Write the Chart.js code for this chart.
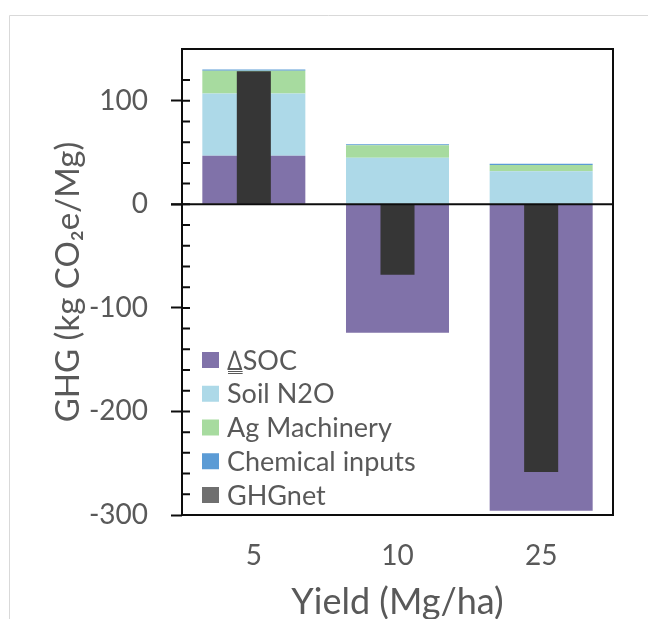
<!DOCTYPE html>
<html>
<head>
<meta charset="utf-8">
<script src="https://cdn.jsdelivr.net/npm/chart.js@4/dist/chart.umd.min.js"></script>
<style>
  html, body { margin: 0; padding: 0; background: #ffffff; overflow: hidden; }
  #wrap { position: relative; width: 648px; height: 640px; }
</style>
</head>
<body>
<div id="wrap"><canvas id="ghg" width="648" height="640"></canvas></div>
<script>
// Yield classes (Mg/ha)
const yields = ['5', '10', '25'];

// GHG contributions, kg CO2e per Mg
const deltaSOC       = [47, -124, -296];
const soilN2O        = [60, 45, 32];
const agMachinery    = [22, 12, 6];
const chemicalInputs = [1.2, 1.1, 1.1];
const ghgNet         = [128.5, -68, -258.5];

// Labelled y ticks (minor ticks every 20 are unlabelled)
const yTickLabels = [-300, -200, -100, 0, 100];

const TEXT = '#595959';
const FONT = 'Lato, "Open Sans", "DejaVu Sans", sans-serif';

const part = (label, data, color) => ({
  label, data,
  backgroundColor: color,
  stack: 'parts',
  grouped: false,
  categoryPercentage: 1,
  barPercentage: 0.717,
  borderWidth: 0,
  order: 1
});

const swatches = ['#8072a9', '#add9e8', '#a7db9f', '#5b9bd5', '#6f6f6f'];

// frame, inward ticks, zero line and in-plot legend
const decorations = {
  id: 'decorations',
  beforeDraw(chart) {
    const ctx = chart.ctx;
    ctx.save();
    ctx.strokeStyle = '#d9d9d9';
    ctx.lineWidth = 1;
    ctx.beginPath();
    ctx.moveTo(9.5, 640); ctx.lineTo(9.5, 15.5); ctx.lineTo(648, 15.5);
    ctx.stroke();
    ctx.restore();
  },
  afterDatasetsDraw(chart) {
    const {ctx, chartArea: a, scales: {y}} = chart;
    ctx.save();
    ctx.strokeStyle = '#0d0d0d';
    ctx.lineWidth = 2;
    // zero line across the plot, extending over the outer tick
    const y0 = y.getPixelForValue(0);
    ctx.beginPath();
    ctx.moveTo(a.left - 11, y0); ctx.lineTo(a.right, y0);
    ctx.stroke();
    // inward tick marks
    ctx.beginPath();
    y.ticks.forEach(t => {
      const py = y.getPixelForValue(t.value);
      ctx.moveTo(a.left, py); ctx.lineTo(a.left + 8, py);
    });
    ctx.stroke();
    // plot frame
    ctx.strokeRect(a.left, a.top, a.right - a.left, a.bottom - a.top);

    // legend
    const labels = chart.data.datasets.map(d => d.label);
    ctx.font = '27px ' + FONT;
    ctx.textBaseline = 'middle';
    ctx.textAlign = 'left';
    labels.forEach((lab, i) => {
      const cy = a.bottom - 155 + i * 33.75;
      ctx.fillStyle = swatches[i];
      ctx.fillRect(a.left + 20, cy - 8, 17, 16);
      ctx.fillStyle = TEXT;
      ctx.fillText(lab, a.left + 45, cy + 1);
      if (i === 0) {
        const w = ctx.measureText(lab.charAt(0)).width;
        ctx.strokeStyle = TEXT;
        ctx.lineWidth = 1;
        ctx.beginPath();
        ctx.moveTo(a.left + 46, cy + 11.5); ctx.lineTo(a.left + 45 + w, cy + 11.5);
        ctx.moveTo(a.left + 46, cy + 13.5); ctx.lineTo(a.left + 45 + w, cy + 13.5);
        ctx.stroke();
      }
    });
    ctx.restore();
  }
};

new Chart(document.getElementById('ghg'), {
  type: 'bar',
  data: {
    labels: yields,
    datasets: [
      part('∆SOC', deltaSOC, swatches[0]),
      part('Soil N2O', soilN2O, swatches[1]),
      part('Ag Machinery', agMachinery, swatches[2]),
      part('Chemical inputs', chemicalInputs, swatches[3]),
      {
        label: 'GHGnet',
        data: ghgNet,
        backgroundColor: '#363636',
        stack: 'net',
        grouped: false,
        categoryPercentage: 1,
        barPercentage: 0.237,
        borderWidth: 0,
        order: 0
      }
    ]
  },
  options: {
    responsive: false,
    animation: false,
    devicePixelRatio: 1,
    layout: { padding: { top: 49, right: 35, left: 40, bottom: 0 } },
    plugins: { legend: { display: false }, tooltip: { enabled: false } },
    scales: {
      x: {
        stacked: false,
        afterFit(s) { s.height = 125; },
        border: { display: false },
        grid: { display: false, drawTicks: false },
        ticks: { padding: 24, color: TEXT, font: { family: FONT, size: 28 } },
        title: {
          display: true, text: 'Yield (Mg/ha)', color: TEXT,
          font: { family: FONT, size: 36 },
          padding: { top: 0, bottom: 16 }
        }
      },
      y: {
        stacked: true,
        min: -300, max: 150,
        afterFit(s) { s.width = 142; },
        border: { display: false },
        grid: {
          drawOnChartArea: false,
          drawTicks: true,
          tickLength: 11,
          tickWidth: 2,
          tickColor: c => (c.tick && yTickLabels.includes(c.tick.value)) ? '#0d0d0d' : 'rgba(0,0,0,0)'
        },
        ticks: {
          stepSize: 20,
          autoSkip: false,
          padding: 23,
          color: TEXT,
          font: { family: FONT, size: 28 },
          callback: v => yTickLabels.includes(v) ? String(v) : ''
        },
        title: {
          display: true, text: 'GHG (kg CO₂e/Mg)', color: TEXT,
          font: { family: FONT, size: 33 },
          padding: { top: 9, bottom: 0 }
        }
      }
    }
  },
  plugins: [decorations]
});
</script>
</body>
</html>
